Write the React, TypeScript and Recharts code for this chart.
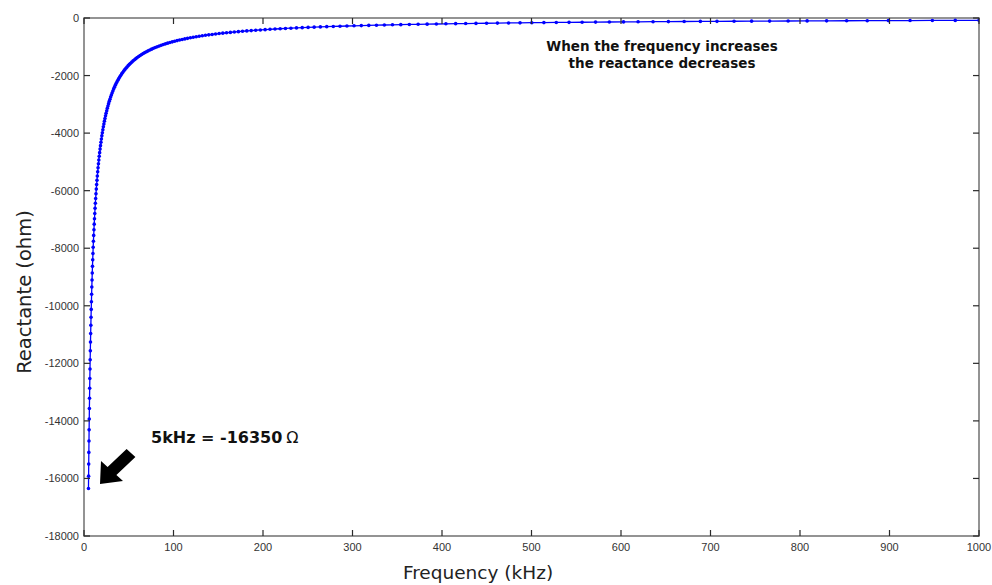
import React from 'react';
import { LineChart, Line, XAxis, YAxis, ReferenceArea } from 'recharts';

// Frequency in kHz (log-spaced sweep)
const frequencies = [
  5, 5.135, 5.273, 5.416, 5.562, 5.712, 5.866, 6.024, 6.187, 6.354,
  6.525, 6.701, 6.882, 7.068, 7.258, 7.454, 7.655, 7.862, 8.074, 8.292,
  8.516, 8.745, 8.981, 9.224, 9.473, 9.728, 9.991, 10.26, 10.537, 10.822,
  11.113, 11.413, 11.721, 12.037, 12.362, 12.696, 13.038, 13.39, 13.751, 14.122,
  14.503, 14.895, 15.297, 15.709, 16.133, 16.568, 17.015, 17.475, 17.946, 18.43,
  18.927, 19.438, 19.963, 20.501, 21.054, 21.622, 22.206, 22.805, 23.42, 24.052,
  24.701, 25.367, 26.052, 26.755, 27.477, 28.218, 28.979, 29.761, 30.564, 31.389,
  32.236, 33.106, 33.999, 34.916, 35.858, 36.826, 37.819, 38.84, 39.888, 40.964,
  42.069, 43.204, 44.37, 45.567, 46.796, 48.059, 49.355, 50.687, 52.055, 53.459,
  54.902, 56.383, 57.904, 59.467, 61.071, 62.719, 64.411, 66.149, 67.934, 69.767,
  71.649, 73.582, 75.567, 77.607, 79.7, 81.85, 84.059, 86.327, 88.657, 91.049,
  93.505, 96.028, 98.619, 101.28, 104.01, 106.82, 109.7, 112.66, 115.7, 118.82,
  122.03, 125.32, 128.7, 132.17, 135.74, 139.4, 143.16, 147.03, 150.99, 155.07,
  159.25, 163.55, 167.96, 172.49, 177.15, 181.92, 186.83, 191.87, 197.05, 202.37,
  207.83, 213.44, 219.19, 225.11, 231.18, 237.42, 243.82, 250.4, 257.16, 264.1,
  271.22, 278.54, 286.06, 293.78, 301.7, 309.84, 318.2, 326.79, 335.6, 344.66,
  353.96, 363.51, 373.32, 383.39, 393.73, 404.36, 415.26, 426.47, 437.98, 449.8,
  461.93, 474.39, 487.19, 500.34, 513.84, 527.7, 541.94, 556.56, 571.58, 587,
  602.84, 619.1, 635.81, 652.96, 670.58, 688.67, 707.25, 726.33, 745.93, 766.06,
  786.73, 807.95, 829.75, 852.14, 875.13, 898.74, 922.99, 947.89, 973.47, 1000,
];

// Reactance in ohm
const reactances = [
  -16350, -15920, -15502, -15095, -14698, -14312, -13936, -13570, -13214, -12867,
  -12528, -12199, -11878, -11566, -11263, -10967, -10679, -10398, -10125, -9859,
  -9600, -9348, -9102, -8863, -8630, -8404, -8183, -7968, -7758, -7555,
  -7356, -7163, -6975, -6791, -6613, -6439, -6270, -6105, -5945, -5789,
  -5637, -5489, -5345, -5204, -5068, -4934, -4805, -4679, -4556, -4436,
  -4319, -4206, -4095, -3988, -3883, -3781, -3681, -3585, -3491, -3399,
  -3310, -3223, -3138, -3056, -2976, -2897, -2821, -2747, -2675, -2605,
  -2536, -2469, -2405, -2341, -2280, -2220, -2162, -2105, -2050, -1996,
  -1943, -1892, -1842, -1794, -1747, -1701, -1656, -1613, -1570, -1529,
  -1489, -1450, -1412, -1375, -1339, -1303, -1269, -1236, -1203, -1172,
  -1141, -1111, -1082, -1053, -1026, -999, -973, -947, -922, -898,
  -874, -851, -829, -807, -786, -765, -745, -726, -707, -688,
  -670, -652, -635, -618, -602, -586, -571, -556, -541, -527,
  -513, -500, -487, -474, -461, -449, -438, -426, -415, -404,
  -393, -383, -373, -363, -354, -344, -335, -326, -318, -310,
  -301, -294, -286, -278, -271, -264, -257, -250, -244, -237,
  -231, -225, -219, -213, -208, -202, -197, -192, -187, -182,
  -177, -172, -168, -163, -159, -155, -151, -147, -143, -139,
  -136, -132, -129, -125, -122, -119, -116, -113, -110, -107,
  -104, -101, -99, -96, -93, -91, -89, -86, -84, -82,
];

const xTicks = [0, 100, 200, 300, 400, 500, 600, 700, 800, 900, 1000];
const yTicks = [-18000, -16000, -14000, -12000, -10000, -8000, -6000, -4000, -2000, 0];
const xDomain = [0, 1000];
const yDomain = [-18000, 0];

const xTitle = 'Frequency (kHz)';
const yTitle = 'Reactante (ohm)';
const noteLine1 = 'When the frequency increases';
const noteLine2 = 'the reactance decreases';
const pointNote = '5kHz = -16350';

const data = frequencies.map((f, i) => ({ f, x: reactances[i] }));

// layout of the plot box (pixels)
const PLOT_TOP = 18;
const PLOT_RIGHT = 979;

const FRAME = '#707070';
const TICK = '#2a2a2a';
const TICK_LEN = 6;
const tickFont = '"Liberation Sans", Arial, sans-serif';
const titleFont = '"DejaVu Sans", Verdana, sans-serif';

const BottomTick = (p: any) => (
  <g>
    <rect x={p.x - 0.6} y={p.y - TICK_LEN} width={1.2} height={TICK_LEN} fill={TICK} />
    <rect x={p.x - 0.6} y={PLOT_TOP} width={1.2} height={TICK_LEN} fill={TICK} />
    <text x={p.x} y={p.y + 15} textAnchor="middle" fontFamily={tickFont} fontSize={11} fill="#333">
      {p.payload.value}
    </text>
  </g>
);

const LeftTick = (p: any) => (
  <g>
    <rect x={p.x} y={p.y - 0.6} width={TICK_LEN} height={1.2} fill={TICK} />
    <rect x={PLOT_RIGHT - TICK_LEN} y={p.y - 0.6} width={TICK_LEN} height={1.2} fill={TICK} />
    <text x={p.x - 5} y={p.y + 4} textAnchor="end" fontFamily={tickFont} fontSize={11} fill="#333">
      {p.payload.value}
    </text>
  </g>
);

export default function App() {
  return (
    <div style={{ position: 'absolute', left: 0, top: 0, width: 992, height: 585, background: '#fff' }}>
      <LineChart
        width={992}
        height={585}
        data={data}
        margin={{ top: PLOT_TOP, right: 992 - PLOT_RIGHT, bottom: 0, left: 0 }}
      >
        <XAxis
          dataKey="f"
          type="number"
          domain={xDomain}
          ticks={xTicks}
          interval={0}
          height={49}
          tickSize={0}
          tickMargin={0}
          allowDataOverflow
          axisLine={false}
          tickLine={false}
          tick={BottomTick}
        />
        <YAxis
          type="number"
          domain={yDomain}
          ticks={yTicks}
          interval={0}
          width={84}
          tickSize={0}
          tickMargin={0}
          allowDataOverflow
          axisLine={false}
          tickLine={false}
          tick={LeftTick}
        />
        <ReferenceArea
          x1={xDomain[0]}
          x2={xDomain[1]}
          y1={yDomain[0]}
          y2={yDomain[1]}
          fill="none"
          fillOpacity={0}
          stroke={FRAME}
          strokeWidth={1.5}
          ifOverflow="visible"
        />
        <Line
          type="linear"
          dataKey="x"
          stroke="#0000ff"
          strokeWidth={1.3}
          dot={{ r: 1.8, fill: '#0000ff', stroke: 'none' }}
          isAnimationActive={false}
        />
      </LineChart>
      <svg
        width={992}
        height={585}
        style={{ position: 'absolute', left: 0, top: 0, pointerEvents: 'none' }}
      >
        <text
          x={478}
          y={579}
          textAnchor="middle"
          fontFamily={titleFont}
          fontSize={18.5}
          fill="#222"
        >
          {xTitle}
        </text>
        <text
          transform="translate(31, 292) rotate(-90)"
          textAnchor="middle"
          fontFamily={titleFont}
          fontSize={19.5}
          fill="#222"
        >
          {yTitle}
        </text>
        <text x={662} y={51} textAnchor="middle" fontFamily={titleFont} fontWeight="bold" fontSize={13.5} fill="#111">
          {noteLine1}
        </text>
        <text x={662} y={68} textAnchor="middle" fontFamily={titleFont} fontWeight="bold" fontSize={13.5} fill="#111">
          {noteLine2}
        </text>
        <text x={151} y={443} fontFamily={titleFont} fontWeight="bold" fontSize={16} fill="#111">
          {pointNote}
          <tspan fontWeight="normal" dx={4}>Ω</tspan>
        </text>
        <polygon
          points="100,484 101,461 107.6,467 126.6,449 135.4,457 116.4,475 123,481"
          fill="#000"
        />
      </svg>
    </div>
  );
}
